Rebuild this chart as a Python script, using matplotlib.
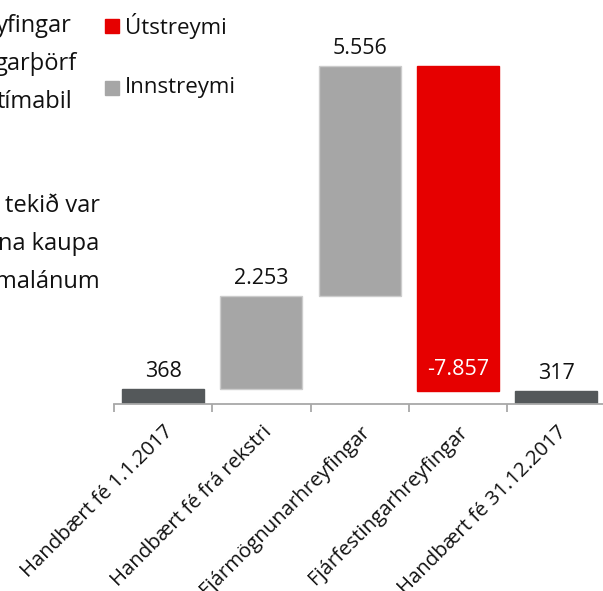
import matplotlib
matplotlib.use("Agg")
import matplotlib.pyplot as plt
from matplotlib.patches import Rectangle
import numpy as np

plt.rcParams['font.family'] = ['Open Sans', 'DejaVu Sans']

categories = ["Handbært fé 1.1.2017", "Handbært fé frá rekstri",
              "Fjármögnunarhreyfingar", "Fjárfestingarhreyfingar",
              "Handbært fé 31.12.2017"]
values = [368, 2253, 5556, -7857, 317]
kinds = ["total", "delta", "delta", "delta", "total"]
value_labels = ["368", "2.253", "5.556", "-7.857", "317"]
legend_labels = ["Útstreymi", "Innstreymi"]
side_lines_top = ["yfingar", "garþörf", "tímabil"]
side_lines_bottom = ["tekið var", "na kaupa", "malánum"]

C_DARK = "#54585a"
C_GRAY = "#a6a6a6"
C_RED = "#e60000"
C_AXIS = "#a8a8a8"

W, H = 603, 591
fig = plt.figure(figsize=(W / 100, H / 100), dpi=100)

px_per_unit = 0.0413
ymax = 9500
ax_left, ax_width = 114, 5 * 98.3
ax_bottom = H - 404
ax_height = ymax * px_per_unit
ax = fig.add_axes([ax_left / W, ax_bottom / H, ax_width / W, ax_height / H])

x = np.arange(len(categories))
bottoms, heights, colors, edges = [], [], [], []
running = 0
for v, k in zip(values, kinds):
    if k == "total":
        bottoms.append(0)
        heights.append(v)
        colors.append(C_DARK)
        edges.append(C_DARK)
        running = v
    else:
        bottoms.append(running)
        heights.append(v)
        if v >= 0:
            colors.append(C_GRAY)
            edges.append("#cccccc")
        else:
            colors.append(C_RED)
            edges.append(C_RED)
        running += v

ax.bar(x, heights, bottom=bottoms, width=0.835, color=colors,
       edgecolor=edges, linewidth=1.0)

for i, (b, h, lab) in enumerate(zip(bottoms, heights, value_labels)):
    if h < 0:
        ax.annotate(lab, (x[i], b + h), xytext=(0, 7.5), textcoords="offset points",
                    ha="center", va="bottom", fontsize=15.5, color="white",
                    annotation_clip=False)
    else:
        ax.annotate(lab, (x[i], b + h), xytext=(0, 5), textcoords="offset points",
                    ha="center", va="bottom", fontsize=15.5, color="#111111",
                    annotation_clip=False)

ax.set_xlim(-0.5, len(categories) - 0.5)
ax.set_ylim(0, ymax)
for s in ["top", "right", "left"]:
    ax.spines[s].set_visible(False)
ax.spines["bottom"].set_color(C_AXIS)
ax.spines["bottom"].set_linewidth(1.3)
ax.set_yticks([])
ax.set_xticks(x)
ax.set_xticklabels(categories, rotation=45, ha="right", rotation_mode="anchor",
                   fontsize=14.7, color="#111111")
ax.tick_params(axis="x", which="major", length=0, pad=13)
ax.set_xticks(np.arange(len(categories) + 1) - 0.5, minor=True)
ax.tick_params(axis="x", which="minor", length=5.5, width=1.3, color=C_AXIS,
               direction="out")

# legend (manual)
leg_colors = [C_RED, C_GRAY]
leg_y = [26, 88]
for lab, col, yc in zip(legend_labels, leg_colors, leg_y):
    fig.patches.append(Rectangle((105 / W, (H - yc - 7) / H), 14 / W, 14 / H,
                                 transform=fig.transFigure, color=col,
                                 figure=fig))
    fig.text(125 / W, (H - yc) / H, lab, fontsize=16, color="#111111",
             ha="left", va="center")

# clipped side text
top_right = [72, 77, 72]
top_base = [31.5, 70.5, 108]
for s, xr, yb in zip(side_lines_top, top_right, top_base):
    fig.text(xr / W, (H - yb) / H, s, fontsize=17, color="#111111",
             ha="right", va="baseline")
bot_right = [100, 99.5, 99.5]
bot_base = [211.5, 250, 288]
for s, xr, yb in zip(side_lines_bottom, bot_right, bot_base):
    fig.text(xr / W, (H - yb) / H, s, fontsize=17, color="#111111",
             ha="right", va="baseline")

fig.savefig("out.png", dpi=100)
